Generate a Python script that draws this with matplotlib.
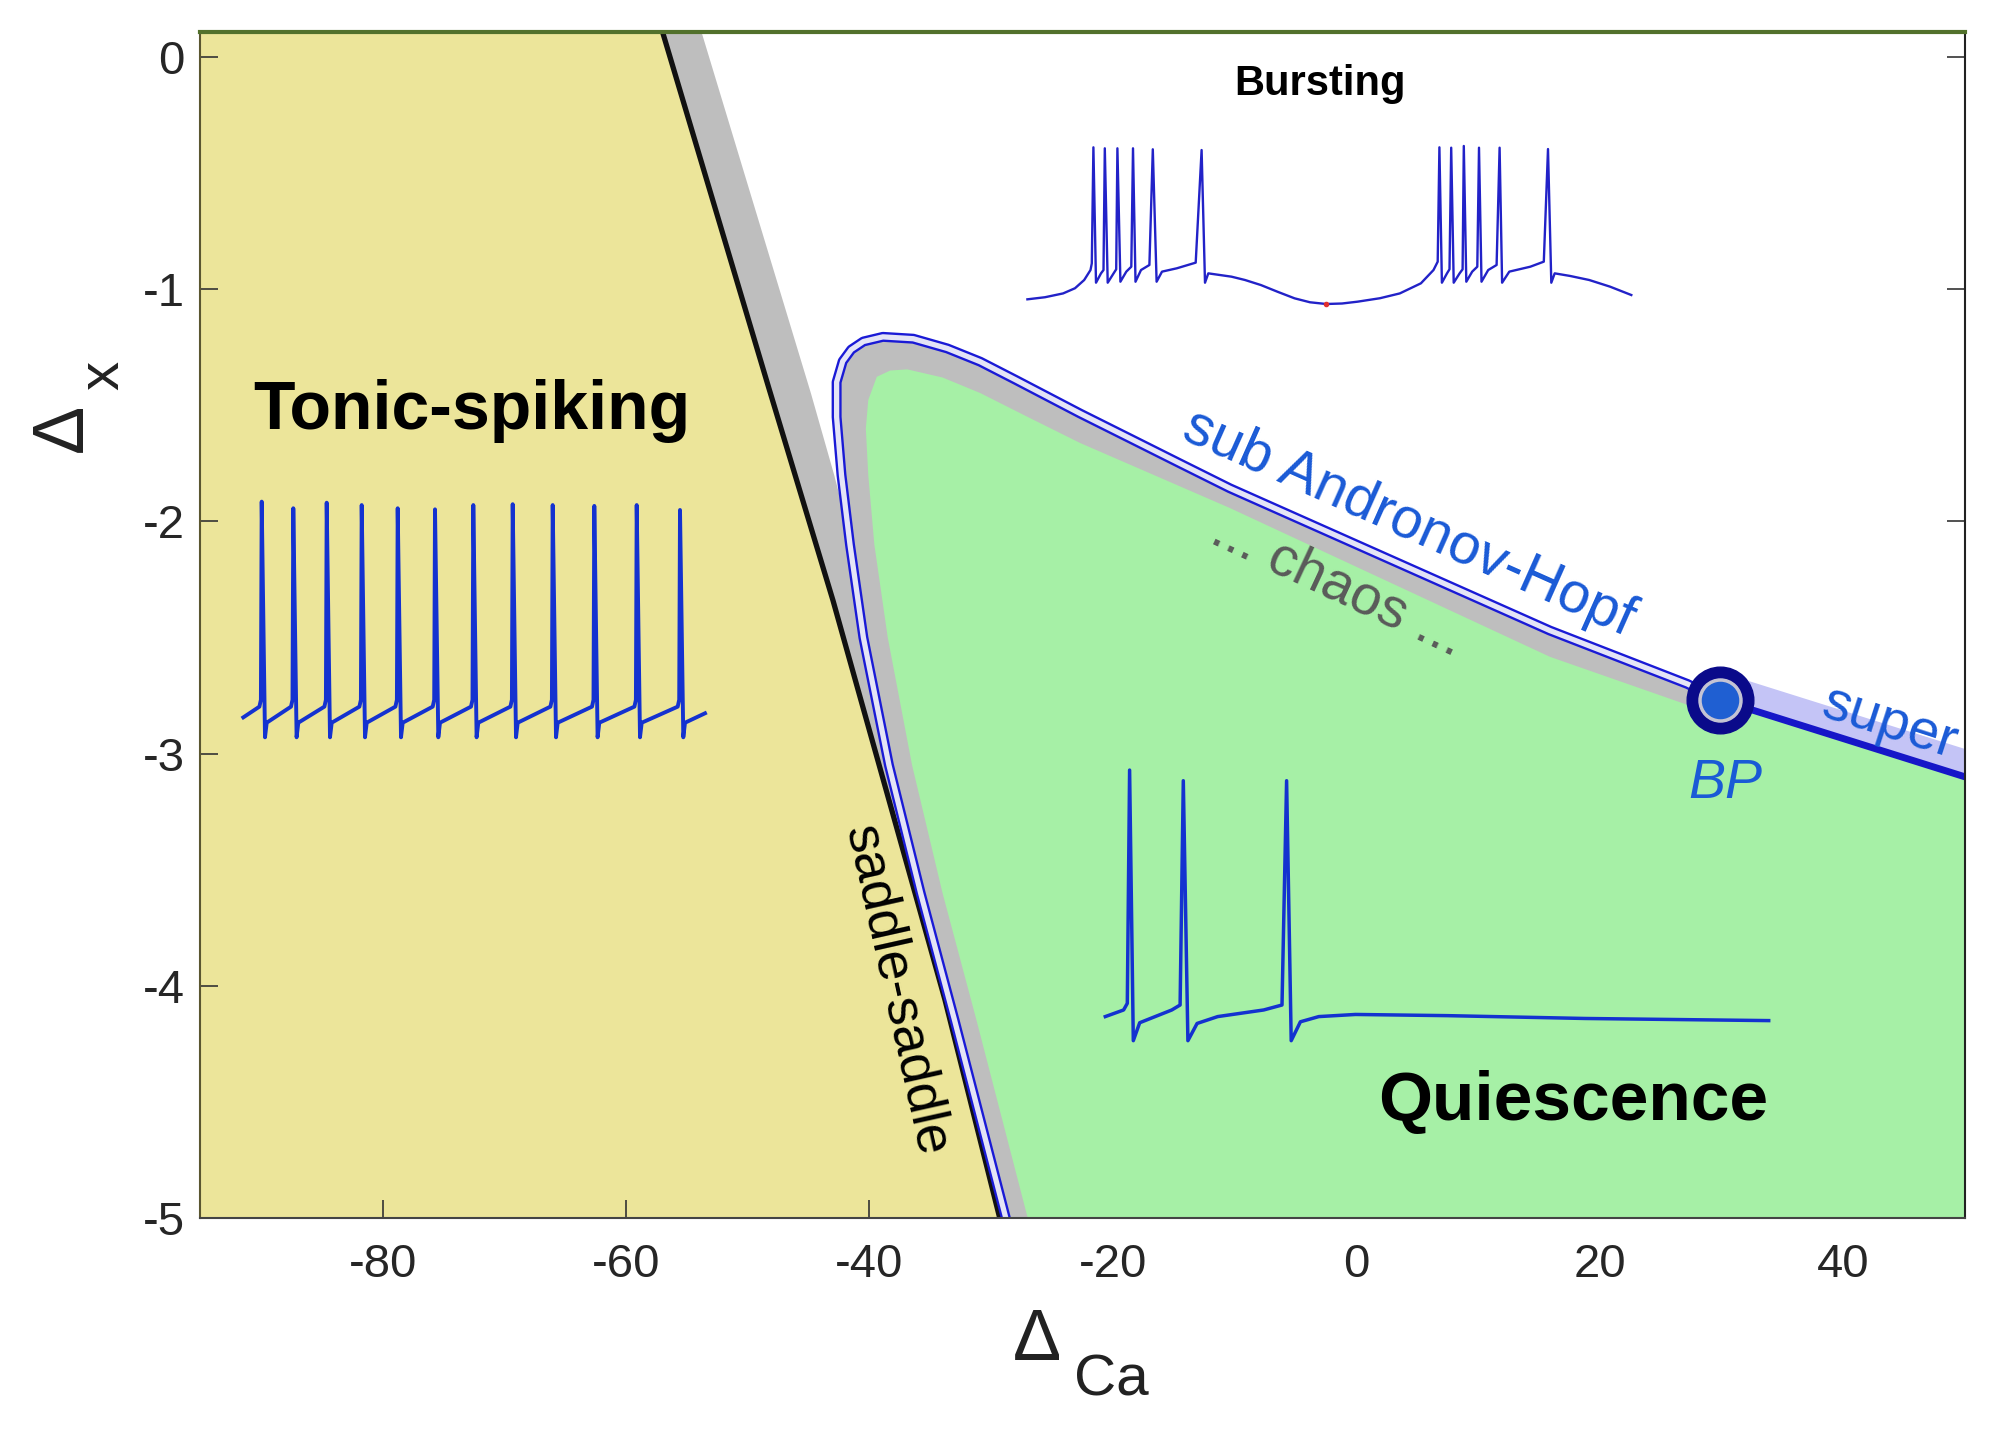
import matplotlib
matplotlib.use('Agg')
import matplotlib.pyplot as plt
from matplotlib.patches import Polygon

plt.rcParams['font.family'] = ['Liberation Sans', 'DejaVu Sans']

# ---------------- data ----------------
x_ticks = [-80, -60, -40, -20, 0, 20, 40]
y_ticks = [0, -1, -2, -3, -4, -5]
x_lim = (-95, 50)
y_lim = (-5, 0.108)

# saddle-saddle boundary
saddle_x = [-57.0, -48.3, -43.0, -33.8, -29.3]
saddle_y = [0.108, -1.42, -2.34, -4.06, -5.0]
# right edge of the grey strip next to the saddle-saddle line
strip_x = [-53.8, -44.8, -42.9, -27.0]
strip_y = [0.108, -1.45, -1.80, -5.0]

# sub-critical Andronov-Hopf curve (bottom -> tip -> BP)
hopf_x = [-28.8, -33.0, -35.8, -38.4, -40.5, -41.6, -42.3, -42.7, -42.7, -42.2,
          -41.5, -40.5, -38.9, -36.4, -33.6, -30.9, -28.0, -22.7, -18.5, -14.5,
          -10.4, 15.9, 27.2, 29.9]
hopf_y = [-5.0, -4.15, -3.6, -3.05, -2.5, -2.1, -1.8, -1.55, -1.40, -1.31,
          -1.26, -1.225, -1.205, -1.213, -1.255, -1.312, -1.39, -1.535, -1.645, -1.75,
          -1.857, -2.47, -2.70, -2.77]

# quiescence (green) region boundary
green_x = [-27.0, -31.2, -34.0, -36.5, -38.5, -39.6, -40.1, -40.3, -40.1, -39.4,
           -38.3, -36.9, -34.0, -30.9, -27.0, -22.7, -10.4, 15.9, 27.2, 29.9]
green_y = [-5.0, -4.15, -3.6, -3.05, -2.5, -2.1, -1.8, -1.6, -1.477, -1.377,
           -1.35, -1.345, -1.38, -1.447, -1.55, -1.662, -1.942, -2.583, -2.79, -2.80]

# super-critical branch
super_x = [29.9, 32.4, 50.0]
super_y = [-2.77, -2.81, -3.10]

# Bautin point
bp_x, bp_y = 29.9, -2.77

# tonic-spiking trace (t, V)
tonic_t = [13.3,
           29.4, 30.9, 31.7, 35.0, 36.7,
           61.0, 62.5, 63.3, 66.6, 68.3,
           94.4, 95.9, 96.7, 100.0, 101.7,
           129.4, 130.9, 131.7, 135.0, 136.7,
           165.4, 166.9, 167.7, 171.0, 172.7,
           202.7, 204.2, 205.0, 208.3, 210.0,
           241.0, 242.5, 243.3, 246.6, 248.3,
           280.4, 281.9, 282.7, 286.0, 287.7,
           320.4, 321.9, 322.7, 326.0, 327.7,
           362.0, 363.5, 364.3, 367.6, 369.3,
           404.4, 405.9, 406.7, 410.0, 411.7,
           447.7, 449.2, 450.0, 453.3, 455.0,
           475.0]
tonic_v = [-60.7,
           -55.7, -52.5, 40.0, -70.0, -63.2,
           -55.7, -52.5, 36.9, -70.0, -63.2,
           -55.7, -52.5, 39.5, -70.0, -63.2,
           -55.7, -52.5, 38.4, -70.0, -63.2,
           -55.7, -52.5, 36.9, -70.0, -63.2,
           -55.7, -52.5, 36.4, -70.0, -63.2,
           -55.7, -52.5, 38.4, -70.0, -63.2,
           -55.7, -52.5, 38.8, -70.0, -63.2,
           -55.7, -52.5, 38.4, -70.0, -63.2,
           -55.7, -52.5, 38.0, -70.0, -63.2,
           -55.7, -52.5, 38.4, -70.0, -63.2,
           -55.7, -52.5, 36.1, -70.0, -63.2,
           -58.8]

# bursting trace (t, V)
burst_t = [27.4, 45.0, 63.1, 75.0, 84.2, 90.5, 91.8, 93.4, 96.0, 101.0, 103.5, 104.8, 107.7,
           113.6, 116.2, 117.4, 120.4, 126.3, 131.3, 133.0, 135.5, 141.0, 149.4,
           152.8, 156.6, 162.0, 176.8, 195.7, 201.6, 205.0, 208.3, 231.5, 245.0, 260.9,
           278.0, 294.6, 310.0, 326.2, 342.0, 357.7, 380.0, 399.8, 420.9, 433.5, 437.7, 439.4,
           441.9, 447.0, 449.5, 451.2, 453.7, 459.6, 462.6, 463.8, 466.3, 472.2, 477.3, 479.0,
           481.5, 488.2, 496.6, 499.6, 502.1, 509.3, 530.3, 543.8, 548.0, 551.3,
           554.7, 570.0, 589.2, 610.0, 631.3]
burst_v = [-83.5, -81.8, -78.7, -74.5, -67.8, -59.7, -54.3, 40.0, -70.0, -62.4, -59.7, 39.2, -70.0,
           -62.4, -59.1, 39.2, -69.2, -61.0, -57.0, 39.2, -69.2, -59.7, -55.6,
           38.4, -69.2, -61.0, -58.3, -53.7, 37.8, -70.0, -62.4, -65.1, -67.8, -71.9,
           -77.5, -82.7, -85.9, -87.3, -86.9, -85.4, -82.6, -78.7, -70.5, -59.7, -52.9, 40.0,
           -70.0, -62.4, -59.1, 39.7, -70.0, -62.4, -59.1, 41.1, -69.2, -61.0, -57.0, 39.7,
           -69.2, -59.7, -55.6, 39.7, -70.0, -61.0, -57.0, -52.9, 38.6, -70.0,
           -62.4, -64.5, -67.8, -73.2, -80.0]
burst_min_t, burst_min_v = 326.2, -87.3

# quiescence trace (t, V)
quiet_t = [25.3, 43.6, 47.3, 49.6, 53.3, 59.7, 91.8, 100.1, 103.3, 107.9, 117.1,
           137.7, 183.7, 202.0, 206.6, 211.2, 220.4, 238.8, 275.5, 367.3, 505.1, 688.7]
quiet_v = [-59.8, -57.0, -54.2, 44.5, -70.0, -62.4, -57.0, -54.9, 40.0, -70.0, -62.7,
           -59.8, -57.0, -54.9, 40.0, -70.0, -62.0, -59.8, -58.9, -59.4, -60.6, -61.5]

# ---------------- colours ----------------
C_YELLOW = '#ece59a'
C_GREEN = '#a6f0a6'
C_GREY = '#bebebe'
C_HOPF = '#1a1ad6'
C_HOPF_IN = '#e4e4f6'
C_SUPER_BAND = '#c4c4f6'
C_SUPER = '#1616c8'
C_TEXT_BLUE = '#1a5ad6'
C_TRACE = '#1432d0'

# ---------------- figure ----------------
W, H = 1999, 1429
fig = plt.figure(figsize=(W / 100, H / 100), dpi=100)


def px_rect(x0, y0, x1, y1):
    return [x0 / W, 1 - y1 / H, (x1 - x0) / W, (y1 - y0) / H]


ax = fig.add_axes(px_rect(200, 32, 1965, 1218))
ax.set_xlim(*x_lim)
ax.set_ylim(*y_lim)
ax.set_facecolor('white')

# yellow tonic-spiking region
yellow_pts = [(x_lim[0], y_lim[1])] + list(zip(saddle_x, saddle_y)) + [(x_lim[0], y_lim[0])]
ax.add_patch(Polygon(yellow_pts, closed=True, facecolor=C_YELLOW, edgecolor='none', zorder=1))

# grey strip
strip_pts = list(zip(saddle_x, saddle_y)) + list(zip(strip_x, strip_y))[::-1]
ax.add_patch(Polygon(strip_pts, closed=True, facecolor=C_GREY, edgecolor='none', zorder=2))

# grey inside hopf curve
greyB = list(zip(hopf_x, hopf_y)) + [(bp_x, y_lim[0])]
ax.add_patch(Polygon(greyB, closed=True, facecolor=C_GREY, edgecolor='none', zorder=2))

# green region
green_pts = list(zip(green_x, green_y)) + list(zip(super_x[1:], super_y[1:])) + [(x_lim[1], y_lim[0])]
ax.add_patch(Polygon(green_pts, closed=True, facecolor=C_GREEN, edgecolor='none', zorder=3))

# super band
band = list(zip(super_x, super_y)) + [(x, y + 0.12) for x, y in zip(super_x, super_y)][::-1]
ax.add_patch(Polygon(band, closed=True, facecolor=C_SUPER_BAND, edgecolor='none', zorder=4))

# saddle-saddle line
ax.plot(saddle_x, saddle_y, color='#111111', lw=3.8, zorder=5, solid_capstyle='butt',
        solid_joinstyle='round')

# hopf double line
ax.plot(hopf_x, hopf_y, color=C_HOPF, lw=7.2, zorder=6, solid_joinstyle='round')
ax.plot(hopf_x, hopf_y, color=C_HOPF_IN, lw=3.8, zorder=7, solid_joinstyle='round')

# super line
ax.plot(super_x, super_y, color=C_SUPER, lw=5.0, zorder=6, solid_capstyle='butt')

# BP marker
ax.plot([bp_x], [bp_y], 'o', ms=48, color='#0a0a8a', zorder=8)
ax.plot([bp_x], [bp_y], 'o', ms=31, color='#c4c4d4', zorder=9)
ax.plot([bp_x], [bp_y], 'o', ms=26, color='#1f5fd2', zorder=10)

# texts
ax.text(-90.6, -1.602, 'Tonic-spiking', fontsize=49, fontweight='bold', color='black',
        ha='left', va='baseline', zorder=11)
ax.text(1.8, -4.58, 'Quiescence', fontsize=50, fontweight='bold', color='black',
        ha='left', va='baseline', zorder=11)
ax.text(-10.0, -0.164, 'Bursting', fontsize=30, fontweight='bold', color='black',
        ha='left', va='baseline', zorder=11)
ax.text(4.3, -2.01, 'sub Andronov-Hopf', fontsize=41, color=C_TEXT_BLUE, rotation=-24,
        ha='center', va='center', rotation_mode='anchor', zorder=11)
ax.text(-1.6, -2.28, '... chaos ...', fontsize=40, color='#5a5a5a', rotation=-25,
        ha='center', va='center', rotation_mode='anchor', zorder=11)
ax.text(43.8, -2.87, 'super', fontsize=40, color=C_TEXT_BLUE, rotation=-18,
        ha='center', va='center', rotation_mode='anchor', zorder=11)
ax.text(30.3, -3.13, 'BP', fontsize=40, color=C_TEXT_BLUE, style='italic',
        ha='center', va='center', zorder=11)
ax.text(-37.8, -4.02, 'saddle-saddle', fontsize=39, color='black', rotation=-77.4,
        ha='center', va='center', rotation_mode='anchor', zorder=11)

# axes styling
ax.set_xticks(x_ticks)
ax.set_yticks(y_ticks)
ax.set_xticklabels([str(v) for v in x_ticks])
ax.set_yticklabels([str(v) for v in y_ticks])
ax.tick_params(axis='both', direction='in', length=13, width=1.2, labelsize=34,
               labelcolor='#262626', color='#333333')
ax.tick_params(axis='x', pad=18)
ax.tick_params(axis='y', pad=11, right=True)
for s in ['left', 'bottom', 'right']:
    ax.spines[s].set_linewidth(1.5)
ax.spines['left'].set_color('#5a5630')
ax.spines['bottom'].set_color('#444444')
ax.spines['right'].set_color('#222222')
ax.spines['top'].set_color('#52712c')
ax.spines['top'].set_linewidth(3)
for s in ax.spines.values():
    s.set_zorder(12)

# axis labels
fig.text(82 / W, 1 - 452 / H, '\u0394', rotation=90, rotation_mode='anchor',
         ha='left', va='baseline', fontsize=52, color='#222222')
fig.text(118 / W, 1 - 390 / H, 'x', rotation=90, rotation_mode='anchor',
         ha='left', va='baseline', fontsize=42, color='#222222')
fig.text(1013 / W, 1 - 1360 / H, '\u0394', ha='left', va='baseline', fontsize=52, color='#222222')
fig.text(1074 / W, 1 - 1396 / H, 'Ca', ha='left', va='baseline', fontsize=42, color='#222222')

# insets with voltage traces
tax = fig.add_axes(px_rect(230, 480, 730, 760))
tax.set_xlim(0, 500)
tax.set_ylim(-80.6, 50.1)
tax.axis('off')
tax.plot(tonic_t, tonic_v, color=C_TRACE, lw=2.8, solid_joinstyle='round', clip_on=False)

bax = fig.add_axes(px_rect(1000, 40, 1660, 320))
bax.set_xlim(0, 660)
bax.set_ylim(-100.3, 127.2)
bax.axis('off')
bax.plot(burst_t, burst_v, color='#2222c8', lw=1.7, solid_joinstyle='round', clip_on=False)
bax.plot([burst_min_t], [burst_min_v], 'o', ms=3, color='#e03030')

qax = fig.add_axes(px_rect(1080, 750, 1800, 1070))
qax.set_xlim(0, 720)
qax.set_ylim(-82.4, 53.0)
qax.axis('off')
qax.plot(quiet_t, quiet_v, color=C_TRACE, lw=2.5, solid_joinstyle='round', clip_on=False)

fig.savefig('out.png', dpi=100)
